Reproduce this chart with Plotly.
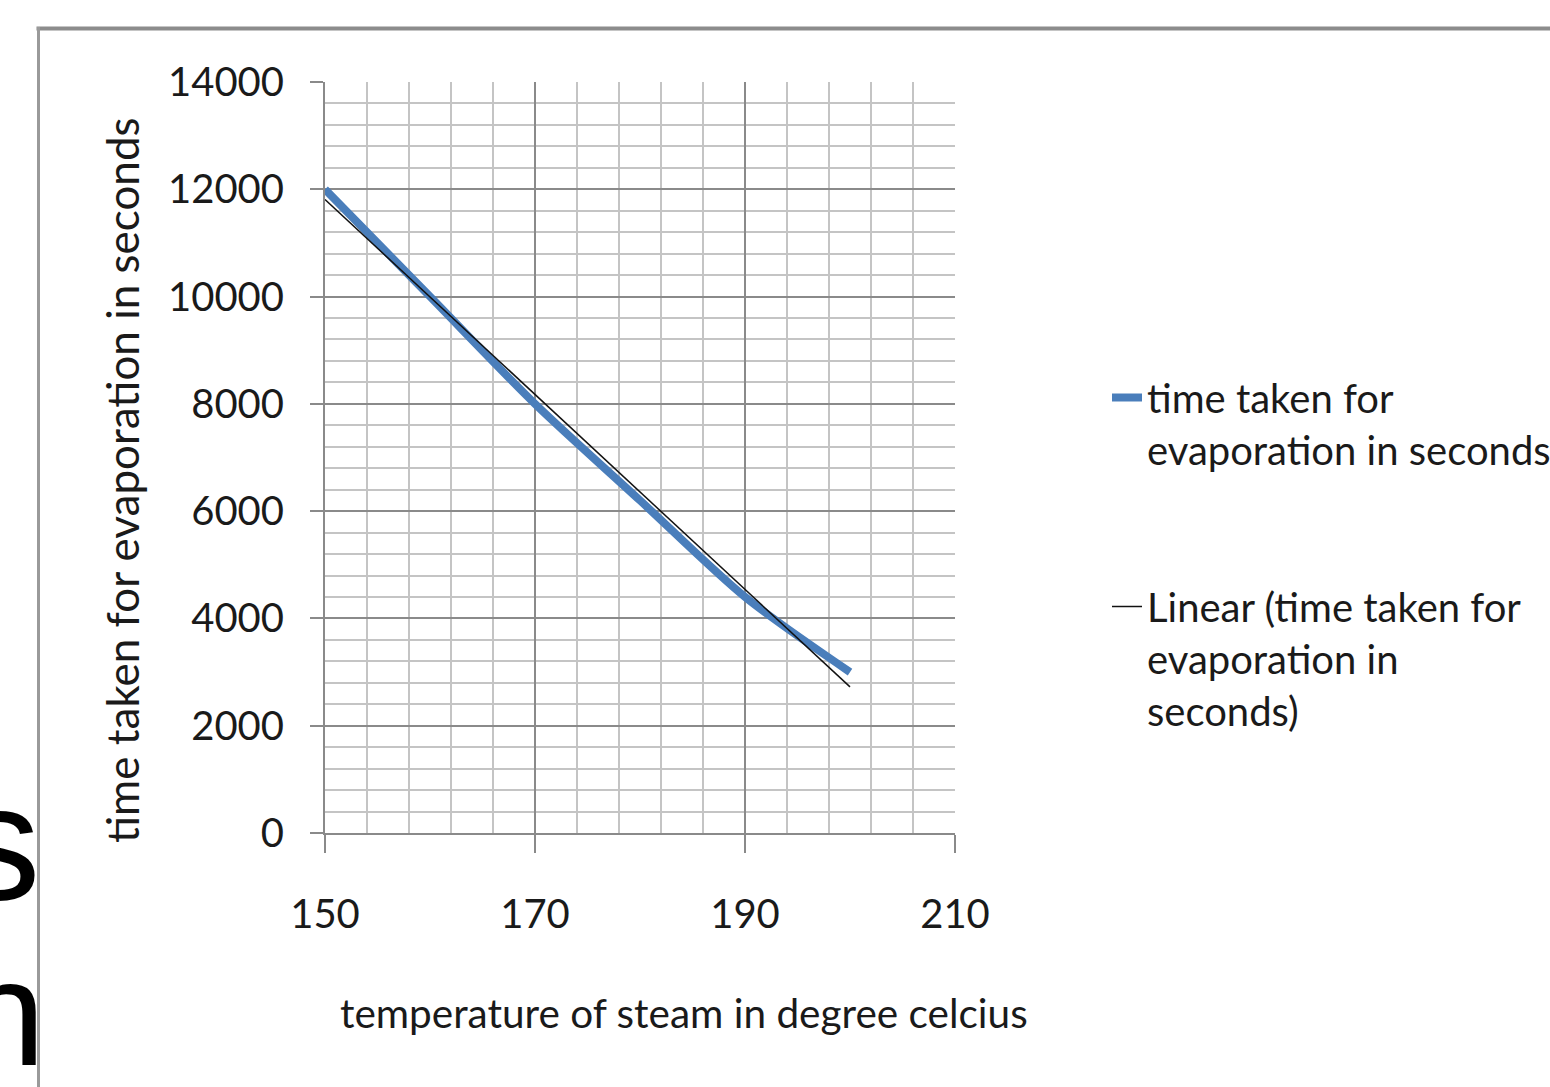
import numpy as np
import plotly.graph_objects as go

# ---- data ----
temperature = [150, 160, 170, 180, 190, 200]
time_taken = [12000, 10000, 8000, 6200, 4400, 3000]
series_name = "time taken for<br>evaporation in seconds"
trend_name = "Linear (time taken for<br>evaporation in<br>seconds)"
x_title = "temperature of steam in degree celcius"
y_title = "time taken for evaporation in seconds"

# linear trendline (least squares)
slope, intercept = np.polyfit(temperature, time_taken, 1)
trend_x = [temperature[0], temperature[-1]]
trend_y = [slope * t + intercept for t in trend_x]

W, H = 1550, 1087
L, R, T, B = 325, 955, 82, 833
def px(x):
    return (x - L) / (R - L)
def py(y):
    return (B - y) / (B - T)

FONT = "Lato"
TXT = "#1a1a1a"
MAJ = "#8a8a8a"
MIN = "#c4c4c4"

fig = go.Figure()
fig.add_trace(go.Scatter(
    x=temperature, y=time_taken, mode="lines", name=series_name,
    line=dict(color="#4a7ebb", width=8, shape="spline", smoothing=0.8),
    legendgroup="a",
))
fig.add_trace(go.Scatter(
    x=trend_x, y=trend_y, mode="lines", name=trend_name,
    line=dict(color="#111111", width=1.5),
    legendgroup="b",
))

fig.update_layout(
    width=W, height=H, autosize=False,
    margin=dict(l=L, r=W - R, t=T, b=H - B, pad=0, autoexpand=False),
    paper_bgcolor="white", plot_bgcolor="white",
    font=dict(family=FONT, color=TXT, size=38),
    showlegend=True,
    legend=dict(
        x=px(1107), y=py(365), xanchor="left", yanchor="top",
        font=dict(family=FONT, size=40, color=TXT),
        tracegroupgap=102, valign="top", bgcolor="rgba(0,0,0,0)",
        borderwidth=0,
    ),
    xaxis=dict(
        range=[150, 210], tick0=150, dtick=20,
        showgrid=True, gridcolor=MAJ, gridwidth=1.5,
        minor=dict(dtick=4, tick0=150, showgrid=True, gridcolor=MIN, gridwidth=1.5),
        ticks="outside", ticklen=18, tickwidth=1.5, tickcolor=MAJ,
        showline=True, linecolor=MAJ, linewidth=2,
        zeroline=False, ticklabelstandoff=27,
        tickformat="d",
        tickfont=dict(family=FONT, size=40, color=TXT),
    ),
    yaxis=dict(
        range=[0, 14000], tick0=0, dtick=2000,
        showgrid=True, gridcolor=MAJ, gridwidth=1.5,
        minor=dict(dtick=400, tick0=0, showgrid=True, gridcolor=MIN, gridwidth=1.5),
        ticks="outside", ticklen=13, tickwidth=1.5, tickcolor=MAJ,
        showline=True, linecolor=MAJ, linewidth=2,
        zeroline=False, ticklabelstandoff=18,
        tickformat="d",
        tickfont=dict(family=FONT, size=40, color=TXT),
    ),
    annotations=[
        dict(text=x_title, x=px(684), y=py(1012), xref="paper", yref="paper",
             xanchor="center", yanchor="middle", showarrow=False,
             font=dict(family=FONT, size=40.5, color=TXT)),
        dict(text=y_title, x=px(122), y=py(480), xref="paper", yref="paper",
             xanchor="center", yanchor="middle", showarrow=False, textangle=-90,
             font=dict(family=FONT, size=44, color=TXT)),
        # fragments of the slide text behind the chart
        dict(text="s", x=px(43), y=py(842), xref="paper", yref="paper",
             xanchor="right", yanchor="middle", showarrow=False,
             font=dict(family="Liberation Sans", size=165, color="black")),
        dict(text="n", x=px(47), y=py(1013), xref="paper", yref="paper",
             xanchor="right", yanchor="middle", showarrow=False,
             font=dict(family="Liberation Sans", size=150, color="black")),
    ],
    shapes=[
        dict(type="line", xref="paper", yref="paper",
             x0=px(36.5), x1=px(1560), y0=py(28.5), y1=py(28.5),
             line=dict(color="#8c8c8c", width=4)),
        dict(type="line", xref="paper", yref="paper",
             x0=px(38.5), x1=px(38.5), y0=py(27), y1=py(1100),
             line=dict(color="#9a9a9a", width=3)),
    ],
)

fig.write_html("out.html")
